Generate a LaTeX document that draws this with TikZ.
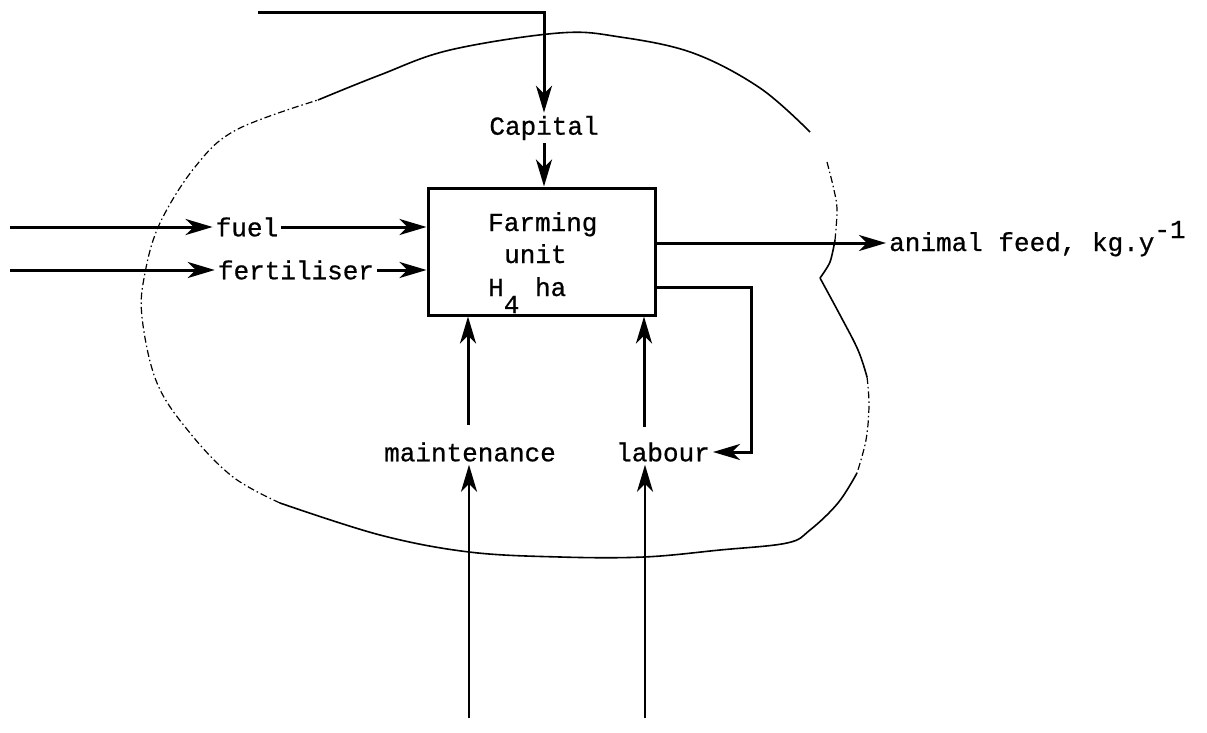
\documentclass[tikz,border=0pt]{standalone}
\usepackage{fontspec}
\newfontfamily\tw[FakeBold=0.7]{Liberation Mono}
\usetikzlibrary{arrows.meta}
\tikzset{
  lab/.style={font=\tw\fontsize{26}{30}\selectfont, inner sep=3pt},
  arr/.style={line width=3pt, -{Stealth[length=27pt,width=16pt,inset=8pt]}},
  rim/.style={line width=1.6pt},
  rimdash/.style={line width=1.2pt, dash pattern=on 7pt off 3pt on 1.5pt off 3pt}
}
\begin{document}
\begin{tikzpicture}[x=1pt,y=-1pt]
\useasboundingbox (0,0) rectangle (1207,733);
% boundary
\draw[rim] plot[smooth, tension=0.6] coordinates {(318,100) (380,75) (450,50) (559,33) (620,37) (693,53) (760,88) (810,132)};
\draw[rimdash] plot[smooth, tension=0.6] coordinates {(827,162) (834,190) (837,210) (835,240)};
\draw[rim] plot[smooth, tension=0.5] coordinates {(835,240) (830,262) (820,278)};
\draw[rim] plot[smooth, tension=0.6] coordinates {(820,278) (840,315) (858,350) (867,377)};
\draw[rimdash] plot[smooth, tension=0.6] coordinates {(867,377) (869,405) (866,440) (857,473)};
\draw[rim] plot[smooth, tension=0.6] coordinates {(857,473) (838,503) (810,530) (787,543) (720,550) (644,557) (560,557) (469,552) (380,535) (280,503)};
\draw[rimdash] plot[smooth, tension=0.6] coordinates {(280,503) (233,477) (190,433) (157,383) (142,317) (145,273) (160,223) (195,167) (236,130) (318,100)};

% box
\node[draw, line width=3pt, minimum width=227pt, minimum height=127pt, inner sep=0pt] (box) at (541.5,251.5) {};
\node[lab, anchor=base west, inner sep=0pt] (t1) at (488,231) {Farming};
\node[lab, anchor=base west, inner sep=0pt] (t2) at (504,263) {unit};
\node[lab, anchor=base west, inner sep=0pt] (t3) at (488,296) {H\raisebox{-17pt}{4} ha};

% labels
\node[lab] (fuel) at (247,227) {fuel};
\node[lab] (fert) at (296,270) {fertiliser};
\node[lab] (cap) at (544,128) {Capital};
\node[lab] (maint) at (470,452) {maintenance};
\node[lab] (lab) at (663,452) {labour};
\coordinate (feedpt) at (886,243);
\node[lab, anchor=base west, inner sep=0pt] (feed) at (889,251) {animal feed, kg.y\raisebox{13pt}{-1}};

% inputs
\coordinate (fuelin) at (10,227);
\coordinate (fertin) at (10,270);
\draw[arr] (fuelin) -- (fuel.west);
\draw[arr] (fertin) -- (fert.west);
\draw[arr] (fuel.east) -- (fuel.east -| box.west);
\draw[arr] (fert.east) -- (fert.east -| box.west);

% capital
\coordinate (captop) at (258,13);
\draw[arr] (captop) -| (cap.north);
\draw[arr] (cap.south) -- (cap.south |- box.north);

% output
\draw[arr] (box.east |- feedpt) -- (feedpt);
\coordinate (fbk) at (751,287);
\draw[arr] (box.east |- fbk) -- (fbk) |- (lab.east);

% upward arrows
\coordinate (mup) at (468,425);
\coordinate (lup) at (644,427);
\draw[arr] (mup) -- (mup |- box.south);
\draw[arr] (lup) -- (lup |- box.south);
\coordinate (mdn) at (469,718);
\coordinate (ldn) at (645,718);
\draw[arr, line width=2.4pt] (mdn) -- (mdn |- maint.south);
\draw[arr, line width=2.4pt] (ldn) -- (ldn |- maint.south);
\end{tikzpicture}
\end{document}
